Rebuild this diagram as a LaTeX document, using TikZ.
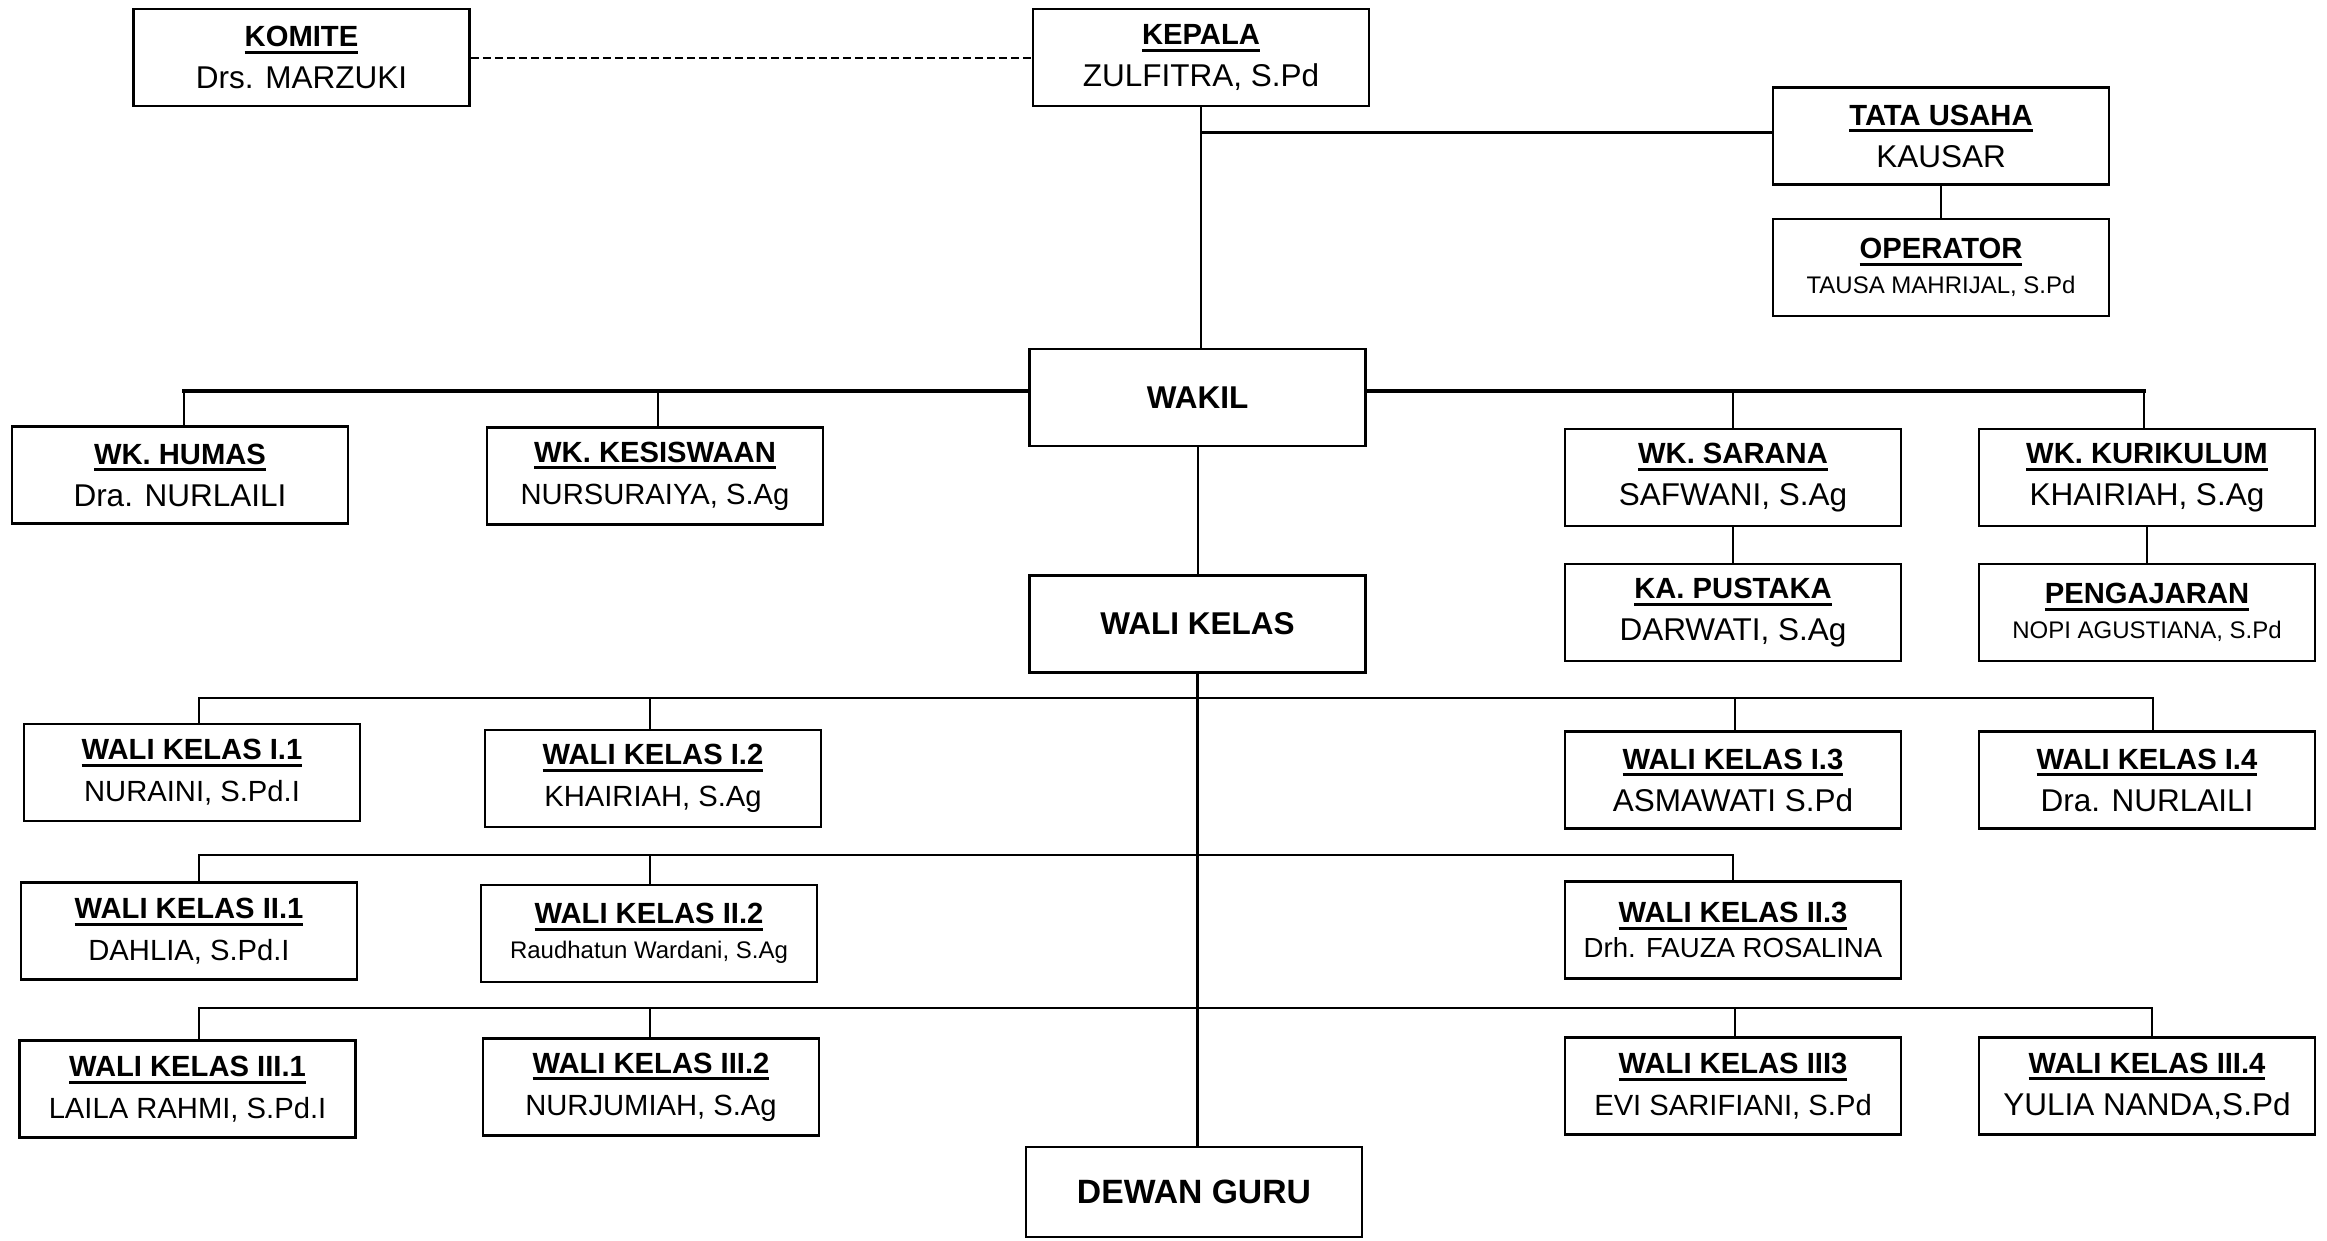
\documentclass[tikz,border=0pt]{standalone}
\usepackage{fontspec}
\setmainfont{Liberation Sans}
\newcommand\ttl[1]{{\bfseries\setbox0=\hbox{#1}\rlap{\rule[-7.3pt]{\wd0}{3pt}}\box0}}
\newcommand\nmA{\fontsize{31.5}{42}\selectfont}
\newcommand\nmB{\fontsize{29.2}{42}\selectfont}
\newcommand\nmC{\fontsize{24}{35}\selectfont}
\newcommand\nmD{\fontsize{27.6}{35}\selectfont}
\tikzset{
  box/.style={draw, line width=2.5pt, minimum width=336pt, minimum height=97pt,
    inner sep=0pt, align=center, font=\fontsize{29.2}{42}\selectfont},
  boxs/.style={box, font=\fontsize{29.2}{35}\selectfont},
  bigbox/.style={box, font=\bfseries\fontsize{31.5}{40}\selectfont},
  conn/.style={line width=2pt, line cap=rect},
  bus/.style={line width=2.5pt, line cap=rect},
  heavy/.style={line width=4pt, line cap=rect},
  link/.style={line width=2pt, dash pattern=on 8pt off 4pt}
}
\begin{document}
\begin{tikzpicture}[x=1pt, y=-1pt]
\fill[white] (0,0) rectangle (2327,1240);
\useasboundingbox (0,0) rectangle (2327,1240);

% boxes
\node[box] (komite) at (301.5,57.5) {\ttl{KOMITE}\\{\nmA Drs. MARZUKI}};
\node[box] (kepala) at (1201,57.5) {\ttl{KEPALA}\\{\nmA ZULFITRA, S.Pd}};
\node[box] (tu) at (1941,136) {\ttl{TATA USAHA}\\{\nmA KAUSAR}};
\node[boxs] (op) at (1941,267.5) {\ttl{OPERATOR}\\{\nmC TAUSA MAHRIJAL, S.Pd}};
\node[bigbox] (wakil) at (1197.5,397.5) {WAKIL};
\node[box] (humas) at (180,475) {\ttl{WK. HUMAS}\\{\nmA Dra. NURLAILI}};
\node[box] (kesis) at (655,476) {\ttl{WK. KESISWAAN}\\{\nmB NURSURAIYA, S.Ag}};
\node[box] (sarana) at (1733,477.5) {\ttl{WK. SARANA}\\{\nmA SAFWANI, S.Ag}};
\node[box] (kuri) at (2147,477.5) {\ttl{WK. KURIKULUM}\\{\nmA KHAIRIAH, S.Ag}};
\node[box] (pustaka) at (1733,612.5) {\ttl{KA. PUSTAKA}\\{\nmA DARWATI, S.Ag}};
\node[boxs] (ajar) at (2147,612.5) {\ttl{PENGAJARAN}\\{\nmC NOPI AGUSTIANA, S.Pd}};
\node[bigbox] (walikelas) at (1197.5,624) {WALI KELAS};
\node[box] (w11) at (192,772.5) {\ttl{WALI KELAS I.1}\\{\nmB NURAINI, S.Pd.I}};
\node[box] (w12) at (653,778.5) {\ttl{WALI KELAS I.2}\\{\nmB KHAIRIAH, S.Ag}};
\node[box] (w13) at (1733,780) {\ttl{WALI KELAS I.3}\\{\nmA ASMAWATI S.Pd}};
\node[box] (w14) at (2147,780) {\ttl{WALI KELAS I.4}\\{\nmA Dra. NURLAILI}};
\node[box] (w21) at (189,931) {\ttl{WALI KELAS II.1}\\{\nmB DAHLIA, S.Pd.I}};
\node[boxs] (w22) at (649,933.5) {\ttl{WALI KELAS II.2}\\{\nmC Raudhatun Wardani, S.Ag}};
\node[boxs] (w23) at (1733,930) {\ttl{WALI KELAS II.3}\\{\nmD Drh. FAUZA ROSALINA}};
\node[box] (w31) at (187.5,1089) {\ttl{WALI KELAS III.1}\\{\nmB LAILA RAHMI, S.Pd.I}};
\node[box] (w32) at (651,1087) {\ttl{WALI KELAS III.2}\\{\nmB NURJUMIAH, S.Ag}};
\node[box] (w33) at (1733,1086) {\ttl{WALI KELAS III3}\\{\nmB EVI SARIFIANI, S.Pd}};
\node[box] (w34) at (2147,1086) {\ttl{WALI KELAS III.4}\\{\nmA YULIA NANDA,S.Pd}};
\node[box, minimum height=90pt, font=\bfseries\fontsize{33.7}{40}\selectfont] (dewan) at (1194,1192) {DEWAN GURU};

% top connectors
\draw[link] (komite.east) -- (kepala.west);
\draw[conn] (kepala.south) -- (kepala.south |- wakil.north);
\coordinate (tuj) at (1201,132);
\draw[line width=3pt] (tuj) -- (tuj -| tu.west);
\draw[conn] (tu.south) -- (op.north);

% wakil bus
\coordinate (wl) at (184,391);
\coordinate (wk) at (658,391);
\coordinate (ws) at (1733,391);
\coordinate (wr) at (2144,391);
\draw[heavy] (wakil.west |- wl) -- (wl);
\draw[heavy] (wakil.east |- wr) -- (wr);
\draw[conn] (wl) -- (wl |- humas.north);
\draw[conn] (wk) -- (wk |- kesis.north);
\draw[conn] (ws) -- (ws |- sarana.north);
\draw[conn] (wr) -- (wr |- kuri.north);
\draw[conn] (sarana.south) -- (pustaka.north);
\draw[conn] (kuri.south) -- (ajar.north);

% central spine
\draw[conn] (wakil.south) -- (wakil.south |- walikelas.north);
\draw[line width=3.5pt] (walikelas.south) -- (walikelas.south |- dewan.north);

% row 1
\coordinate (r1l) at (199,698);
\coordinate (r1b) at (650,698);
\coordinate (r1c) at (1735,698);
\coordinate (r1r) at (2153,698);
\draw[bus] (r1l) -- (r1r);
\draw[conn] (r1l) -- (r1l |- w11.north);
\draw[conn] (r1b) -- (r1b |- w12.north);
\draw[conn] (r1c) -- (r1c |- w13.north);
\draw[conn] (r1r) -- (r1r |- w14.north);

% row 2
\coordinate (r2l) at (199,855);
\coordinate (r2b) at (650,855);
\coordinate (r2r) at (1733,855);
\draw[bus] (r2l) -- (r2r);
\draw[conn] (r2l) -- (r2l |- w21.north);
\draw[conn] (r2b) -- (r2b |- w22.north);
\draw[conn] (r2r) -- (r2r |- w23.north);

% row 3
\coordinate (r3l) at (199,1008);
\coordinate (r3b) at (650,1008);
\coordinate (r3c) at (1735,1008);
\coordinate (r3r) at (2152,1008);
\draw[bus] (r3l) -- (r3r);
\draw[conn] (r3l) -- (r3l |- w31.north);
\draw[conn] (r3b) -- (r3b |- w32.north);
\draw[conn] (r3c) -- (r3c |- w33.north);
\draw[conn] (r3r) -- (r3r |- w34.north);
\end{tikzpicture}
\end{document}
